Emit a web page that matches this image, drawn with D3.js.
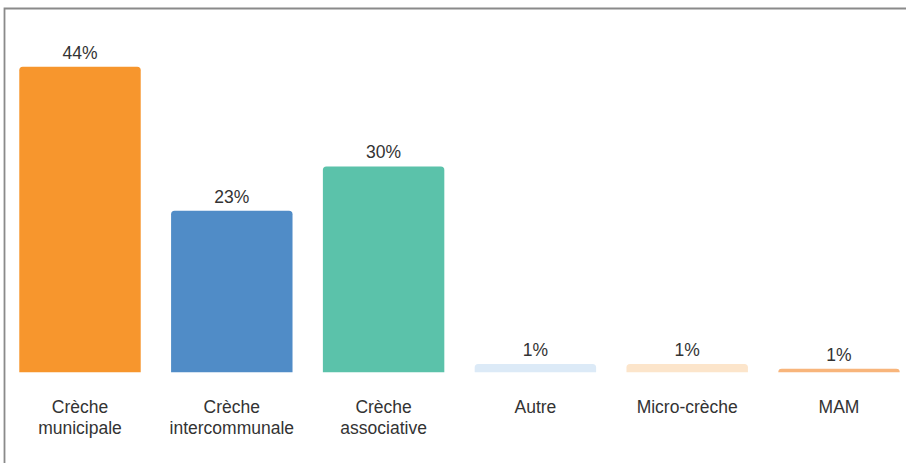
<!DOCTYPE html>
<html>
<head>
<meta charset="utf-8">
<script src="https://cdn.jsdelivr.net/npm/d3@7"></script>
<style>
  html, body { margin: 0; padding: 0; background: #fff; }
  #chart { width: 906px; height: 463px; overflow: hidden; }
  text { font-family: "Liberation Sans", Arial, sans-serif; fill: #333; }
</style>
</head>
<body>
<div id="chart"></div>
<script>
// Categories (multi-line labels) and values in %
const categories = [
  ['Crèche', 'municipale'],
  ['Crèche', 'intercommunale'],
  ['Crèche', 'associative'],
  ['Autre'],
  ['Micro-crèche'],
  ['MAM']
];
const values = [44.1, 23.3, 29.7, 1.2, 1.2, 0.5];
const colors = ['#F7962D', '#508CC7', '#5BC2AA', '#DCEAF7', '#FCE5CB', '#F8B57B'];

const w = 906;
const h = 463;
const baseline = 372.3;

const svg = d3.select('#chart')
  .append('svg')
  .attr('width', w)
  .attr('height', h);

// Frame (only top and left edges visible)
svg.append('path')
  .attr('d', `M4.5,${h} V8.5 H${w}`)
  .attr('fill', 'none')
  .attr('stroke', '#8a8a8a')
  .attr('stroke-width', 1.8);

// Scales
const xScale = d3.scaleBand()
  .domain(d3.range(values.length))
  .range([4.1, 914.9])
  .paddingInner(0.2)
  .paddingOuter(0.1);

const yScale = d3.scaleLinear()
  .domain([0, 50])
  .range([baseline, baseline - 50 * 6.93]);

// Bar path with rounded top corners
function barPath(x, y, bw, bh) {
  const r = Math.min(3.5, bh, bw / 2);
  return `M${x},${y + bh} V${y + r} Q${x},${y} ${x + r},${y} H${x + bw - r} Q${x + bw},${y} ${x + bw},${y + r} V${y + bh} Z`;
}

svg.selectAll('path.bar')
  .data(values)
  .enter()
  .append('path')
  .attr('class', 'bar')
  .attr('fill', (d, i) => colors[i])
  .attr('d', (d, i) => barPath(xScale(i), yScale(d), xScale.bandwidth(), yScale(0) - yScale(d)));

// Value labels
svg.selectAll('text.value')
  .data(values)
  .enter()
  .append('text')
  .attr('class', 'value')
  .attr('x', (d, i) => xScale(i) + xScale.bandwidth() / 2)
  .attr('y', d => yScale(d) - 8)
  .attr('text-anchor', 'middle')
  .attr('font-size', '17.5px')
  .text(d => Math.round(d) + '%');

// Category labels
const catLabels = svg.selectAll('text.cat')
  .data(categories)
  .enter()
  .append('text')
  .attr('class', 'cat')
  .attr('x', (d, i) => xScale(i) + xScale.bandwidth() / 2)
  .attr('y', 413)
  .attr('text-anchor', 'middle')
  .attr('font-size', '17.5px');

catLabels.selectAll('tspan')
  .data(d => d)
  .enter()
  .append('tspan')
  .attr('x', function() { return d3.select(this.parentNode).attr('x'); })
  .attr('dy', (d, i) => i === 0 ? 0 : 20.5)
  .text(d => d);
</script>
</body>
</html>
